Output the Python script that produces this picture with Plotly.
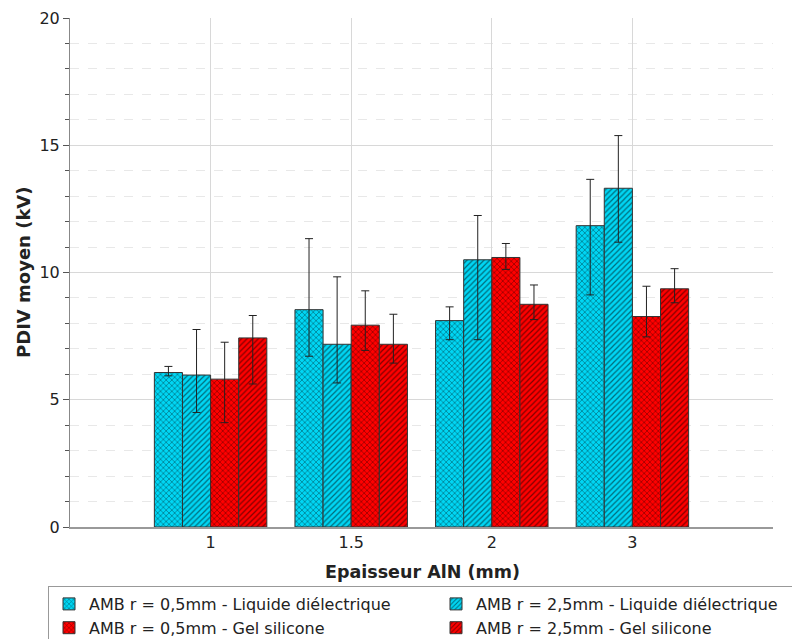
import plotly.graph_objects as go

categories = ["1", "1.5", "2", "3"]

series_names = [
    "AMB r = 0,5mm - Liquide diélectrique",
    "AMB r = 2,5mm - Liquide diélectrique",
    "AMB r = 0,5mm - Gel silicone",
    "AMB r = 2,5mm - Gel silicone",
]

liq_05 = [6.07, 8.54, 8.11, 11.84]
liq_05_hi = [6.31, 11.33, 8.65, 13.66]
liq_05_lo = [5.94, 6.71, 7.36, 9.12]

liq_25 = [5.97, 7.18, 10.50, 13.31]
liq_25_hi = [7.76, 9.83, 12.24, 15.38]
liq_25_lo = [4.50, 5.66, 7.36, 11.19]

gel_05 = [5.81, 7.93, 10.59, 8.27]
gel_05_hi = [7.26, 9.28, 11.14, 9.46]
gel_05_lo = [4.10, 6.94, 10.12, 7.47]

gel_25 = [7.43, 7.18, 8.75, 9.36]
gel_25_hi = [8.31, 8.36, 9.51, 10.15]
gel_25_lo = [5.62, 6.44, 8.15, 8.81]

x_title = "Epaisseur AlN (mm)"
y_title = "PDIV moyen (kV)"

CYAN = "#00D6F4"
RED = "#FF0000"
FONT = "DejaVu Sans"

series = [
    (series_names[0], liq_05, liq_05_hi, liq_05_lo, CYAN, "x"),
    (series_names[1], liq_25, liq_25_hi, liq_25_lo, CYAN, "/"),
    (series_names[2], gel_05, gel_05_hi, gel_05_lo, RED, "x"),
    (series_names[3], gel_25, gel_25_hi, gel_25_lo, RED, "/"),
]

W, H = 792, 639
L, R, T, B = 70, 19, 18, 112
PW, PH = W - L - R, H - T - B

fig = go.Figure()
for name, vals, hi, lo, color, shape in series:
    fig.add_trace(go.Bar(
        x=categories, y=vals, name=name,
        marker=dict(color=color, line=dict(color="#333333", width=1),
                    pattern=dict(shape=shape, fgcolor="#000000", size=4, solidity=0.3)),
        error_y=dict(type="data", symmetric=False,
                     array=[h - v for h, v in zip(hi, vals)],
                     arrayminus=[v - l for v, l in zip(vals, lo)],
                     color="#222222", thickness=1, width=4),
    ))

fig.update_layout(
    width=W, height=H,
    margin=dict(l=L, r=R, t=T, b=B, autoexpand=False),
    plot_bgcolor="white", paper_bgcolor="white",
    barmode="group", bargap=0.2, bargroupgap=0,
    font=dict(family=FONT, size=15, color="#222222"),
    xaxis=dict(
        type="category", range=[-1, 4], automargin=False,
        showgrid=True, gridcolor="#D8D8D8", gridwidth=1,
        showline=True, linecolor="#999999", linewidth=2,
        ticks="", tickfont=dict(size=16),
    ),
    yaxis=dict(
        range=[0, 20], dtick=5, tick0=0, automargin=False,
        showgrid=True, gridcolor="#D8D8D8", gridwidth=1,
        showline=True, linecolor="#888888", linewidth=1,
        ticks="outside", ticklen=6, tickcolor="#555555",
        tickfont=dict(size=16), zeroline=False,
        minor=dict(dtick=1, showgrid=True, gridcolor="#E8E8E8", griddash="dash",
                   ticks="outside", ticklen=4, tickcolor="#555555"),
    ),
    legend=dict(
        orientation="h", x=(48 - L) / PW, xanchor="left",
        y=(H - B - 586) / PH, yanchor="top",
        bordercolor="#999999", borderwidth=1, bgcolor="white",
        entrywidth=342, entrywidthmode="pixels",
        font=dict(size=16), traceorder="normal",
        itemwidth=30, tracegroupgap=0,
    ),
    annotations=[
        dict(text="<b>" + x_title + "</b>", xref="paper", yref="paper",
             x=(422 - L) / PW, y=(H - B - 572) / PH, xanchor="center", yanchor="middle",
             showarrow=False, font=dict(size=17.5)),
        dict(text="<b>" + y_title + "</b>", xref="paper", yref="paper",
             x=(23 - L) / PW, y=(H - B - 272) / PH, xanchor="center", yanchor="middle",
             textangle=-90, showarrow=False, font=dict(size=18)),
    ],
)

fig.write_html("out.html", config={"displayModeBar": False},
               post_script="document.body.style.margin='0px';")
